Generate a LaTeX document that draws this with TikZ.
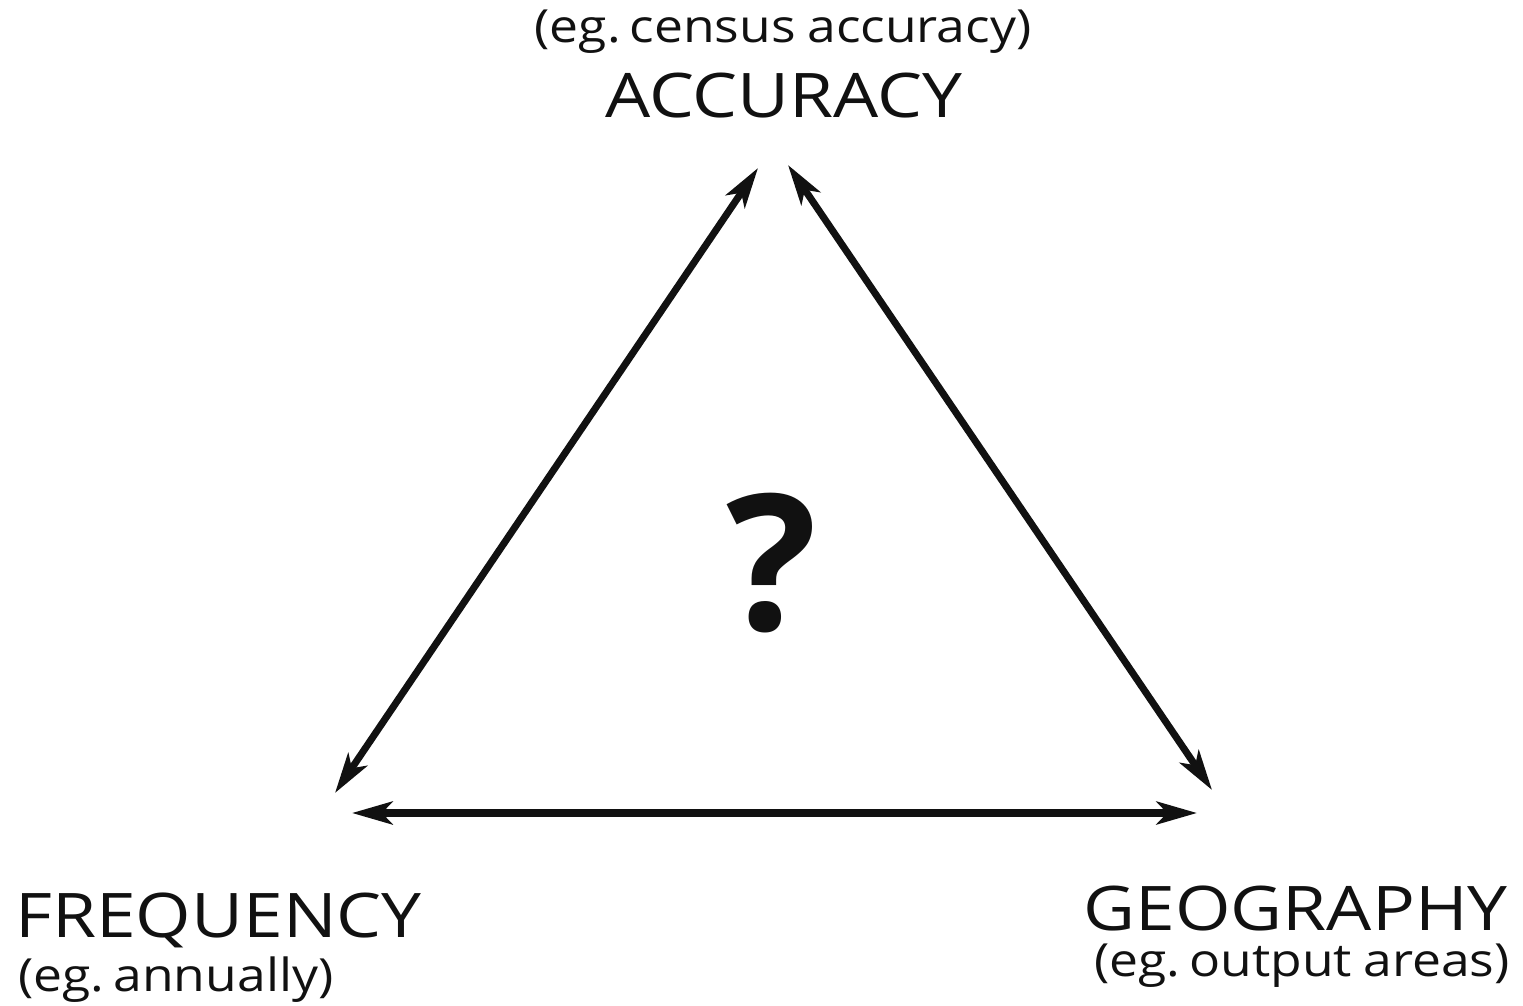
\documentclass[tikz,border=0pt]{standalone}
\usepackage{fontspec}
\setmainfont{Open Sans}
\newfontfamily\wordfont{Open Sans}[FakeStretch=1.16]
\newfontfamily\notefont{Open Sans}[FakeStretch=1.13,WordSpace=0.85]
\usepackage{tikz}
\usetikzlibrary{arrows.meta,positioning}
\definecolor{ink}{HTML}{111111}
\tikzset{
  bigword/.style={
    text=ink, inner sep=0pt, font=\wordfont\fontsize{35}{40}\selectfont
  },
  smallword/.style={
    text=ink, inner sep=0pt, font=\notefont\fontsize{26}{30}\selectfont
  },
  tradeoff/.style={
    draw=ink, line width=4pt,
    {Stealth[length=23pt,width=13pt,inset=6pt]}-{Stealth[length=23pt,width=13pt,inset=6pt]}
  }
}
\begin{document}
\begin{tikzpicture}[x=0.02cm,y=-0.02cm]
  \useasboundingbox (0,0) rectangle (1523,1006);
  % labels at the three corners
  \node[smallword] (accnote) at (783,32) {(eg.\kern-0.15em{} census accuracy)};
  \node[bigword] (acc) at (784,96) {ACCURACY};
  \node[bigword,anchor=west] (freq) at (15,920) {FREQUENCY};
  \node[smallword,anchor=west] (freqnote) at (18,980) {(eg.\kern-0.15em{} annually)};
  \node[bigword,anchor=east] (geo) at (1508,908) {GEOGRAPHY};
  \node[smallword,anchor=east] (geonote) at (1510,966) {(eg.\kern-0.15em{} output areas)};
  \node[text=ink, inner sep=0pt, font=\fontsize{108}{120}\selectfont\bfseries] (ask) at (772,563) {?};
  % arrow ends
  \coordinate (accL) at (758,168);
  \coordinate (accR) at (788,165);
  \coordinate (freqT) at (335,793);
  \coordinate (freqR) at (352,813);
  \coordinate (geoT) at (1212,790);
  \coordinate (geoL) at (1197,813);
  \draw[tradeoff] (freqT) -- (accL);
  \draw[tradeoff] (accR) -- (geoT);
  \draw[tradeoff] (freqR) -- (geoL);
\end{tikzpicture}
\end{document}
